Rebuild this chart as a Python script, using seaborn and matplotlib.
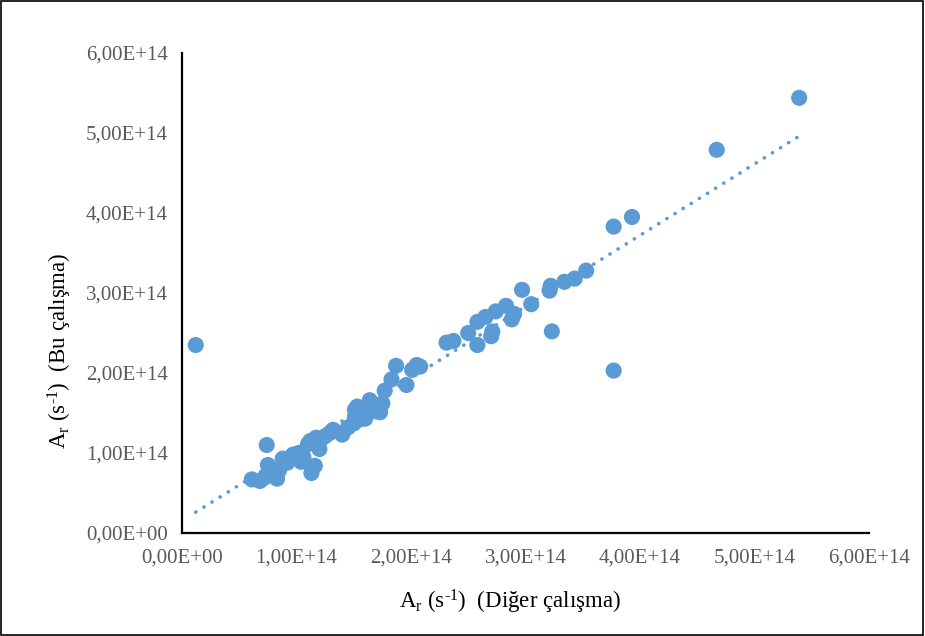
import matplotlib
matplotlib.use("Agg")
import matplotlib.pyplot as plt
from matplotlib.patches import Rectangle
from matplotlib.ticker import FuncFormatter, MultipleLocator
import numpy as np
import pandas as pd
import seaborn as sns

# Transition rates A_r (units of 1e14 s^-1): other work vs. this work
ar_other = [0.12, 0.61, 0.68, 0.72, 0.74, 0.75, 0.78, 0.83, 0.85, 0.88,
            0.92, 0.97, 0.99, 1.02, 1.04, 1.06, 1.10, 1.12, 1.13, 1.16,
            1.17, 1.20, 1.22, 1.25, 1.29, 1.32, 1.40, 1.45, 1.50, 1.51,
            1.51, 1.53, 1.55, 1.60, 1.62, 1.64, 1.66, 1.70, 1.73, 1.75,
            1.77, 1.83, 1.87, 1.96, 2.01, 2.05, 2.08, 2.31, 2.37, 2.50,
            2.58, 2.58, 2.65, 2.70, 2.71, 2.74, 2.83, 2.88, 2.90, 2.97,
            3.05, 3.21, 3.22, 3.23, 3.34, 3.43, 3.53, 3.77, 3.77, 3.93,
            4.67, 5.39]
ar_this = [2.35, 0.67, 0.65, 0.69, 1.10, 0.85, 0.72, 0.68, 0.79, 0.93,
           0.88, 0.98, 0.95, 1.00, 0.89, 0.95, 1.11, 1.15, 0.75, 0.84,
           1.19, 1.05, 1.18, 1.21, 1.25, 1.29, 1.23, 1.32, 1.37, 1.45,
           1.54, 1.58, 1.42, 1.43, 1.50, 1.66, 1.56, 1.52, 1.51, 1.62,
           1.78, 1.92, 2.09, 1.85, 2.04, 2.10, 2.08, 2.38, 2.40, 2.50,
           2.35, 2.64, 2.70, 2.46, 2.52, 2.77, 2.84, 2.67, 2.74, 3.04,
           2.86, 3.03, 3.09, 2.52, 3.14, 3.18, 3.28, 3.83, 2.03, 3.95,
           4.79, 5.44]

x_label = r"A$_{\mathrm{r}}$ (s$^{\text{-1}}$)  (Diğer çalışma)"
y_label = r"A$_{\mathrm{r}}$ (s$^{\text{-1}}$)  (Bu çalışma)"

df = pd.DataFrame({"other": np.array(ar_other) * 1e14,
                   "this": np.array(ar_this) * 1e14})

sns.set_style("white")
plt.rcParams["font.family"] = ["Liberation Serif", "DejaVu Serif"]
plt.rcParams["mathtext.fontset"] = "custom"
plt.rcParams["mathtext.rm"] = "Liberation Serif"
plt.rcParams["mathtext.it"] = "Liberation Serif:italic"

blue = "#5B9BD5"
fig = plt.figure(figsize=(9.25, 6.36), dpi=100)
ax = fig.add_axes([182 / 925, 1 - 533 / 636, 687 / 925, 480 / 636])

sns.scatterplot(data=df, x="other", y="this", ax=ax, s=135, color=blue,
                edgecolor="none", linewidth=0, zorder=3)
sns.regplot(data=df, x="other", y="this", ax=ax, scatter=False, ci=None,
            truncate=True, color=blue,
            line_kws={"linestyle": (0, (0.05, 2.6)), "linewidth": 2.6,
                      "dash_capstyle": "round", "zorder": 2})

ax.set_xlim(0, 6e14)
ax.set_ylim(0, 6e14)
ax.xaxis.set_major_locator(MultipleLocator(1e14))
ax.yaxis.set_major_locator(MultipleLocator(1e14))
fmt = FuncFormatter(lambda v, _: f"{v:.2E}".replace(".", ","))
ax.xaxis.set_major_formatter(fmt)
ax.yaxis.set_major_formatter(fmt)

for side in ("top", "right"):
    ax.spines[side].set_visible(False)
for side in ("left", "bottom"):
    ax.spines[side].set_color("black")
    ax.spines[side].set_linewidth(1.6)

ax.tick_params(axis="both", which="major", direction="out", length=6,
               width=1.4, color="black", labelsize=15, labelcolor="#595959",
               pad=4)
ax.tick_params(axis="x", pad=5)

ax.set_xlabel(x_label, fontsize=16.5, color="black")
ax.set_ylabel(y_label, fontsize=16.5, color="black")
ax.xaxis.set_label_coords(0.477, -0.115)
ax.yaxis.set_label_coords(-0.157, 0.38)

fig.patches.append(Rectangle((0.001, 0.001), 0.997, 0.997, transform=fig.transFigure,
                             fill=False, edgecolor="black", linewidth=1.2))

fig.savefig("out.png", dpi=100)
